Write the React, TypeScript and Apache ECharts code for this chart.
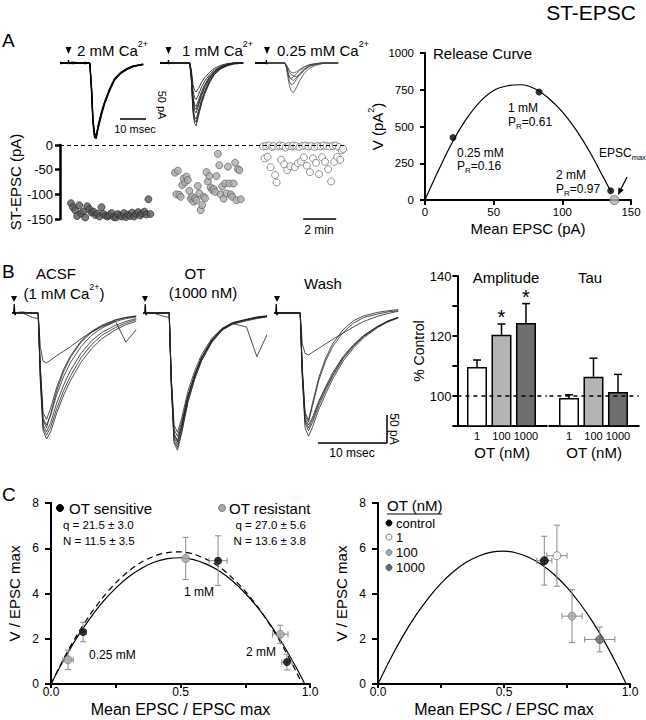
import React, { useEffect, useRef } from 'react';
import * as echarts from 'echarts';

const FONT = '"Liberation Sans", Arial, Helvetica, sans-serif';

// ---------- Panel A: example ST-EPSC traces (ms, pA) ----------
const traceTimeA = [0, 4, 8, 9.3, 9.8, 10.3, 10.8, 11.3, 12, 13, 14, 15.5, 17, 19, 21, 23, 26];
const sweeps2mM = [
  [0, 0, 0, 0, -40, -100, -126, -128, -108, -86, -68, -46, -28, -17, -10, -6, -3],
  [1, -1, 1, 0, -35, -95, -124, -131, -112, -89, -70, -48, -30, -18, -11, -6, -2],
  [-1, 1, 0, -1, -45, -106, -129, -126, -105, -83, -66, -44, -27, -16, -9, -5, -2],
  [0, 1, -1, 0, -38, -98, -121, -125, -107, -85, -67, -47, -29, -17, -10, -5, -3],
];
const sweeps1mM = [
  [0, 0, 0, 0, -30, -85, -104, -108, -92, -70, -53, -34, -20, -10, -5, -2, 0],
  [1, 0, -1, 0, -27, -75, -93, -97, -83, -63, -48, -30, -18, -9, -4, -1, 0],
  [0, -1, 0, 1, -23, -65, -82, -86, -74, -56, -42, -27, -16, -8, -3, -1, 0],
  [-1, 0, 1, 0, -20, -57, -72, -75, -65, -49, -37, -23, -14, -7, -3, 0, 1],
  [0, 1, 0, -1, -16, -47, -60, -63, -55, -41, -31, -20, -12, -6, -2, 0, 0],
  [0, 0, -1, 0, -12, -37, -47, -50, -44, -33, -25, -16, -9, -4, -1, 0, 0],
  [0, 1, 0, 0, -28, -80, -98, -102, -88, -67, -50, -32, -19, -9, -4, -1, 0],
  [1, 0, 0, -1, -21, -61, -77, -80, -70, -53, -40, -25, -15, -7, -3, 0, 0],
];
const sweeps025mM = [
  [0, 0, 0, 0, -8, -25, -40, -48, -51, -42, -30, -17, -9, -4, -1, 0, 0],
  [1, 0, -1, 0, -6, -20, -32, -37, -36, -28, -20, -11, -5, -2, 0, 0, 0],
  [0, -1, 0, 1, -5, -15, -24, -28, -30, -25, -18, -10, -5, -2, -1, 0, 0],
  [0, 0, 1, -1, -4, -10, -16, -20, -22, -24, -20, -12, -6, -2, 0, 0, 0],
  [-1, 0, 0, 0, -3, -8, -13, -16, -17, -15, -11, -6, -3, -1, 0, 0, 0],
  [0, 1, 0, 0, -6, -18, -25, -27, -24, -18, -13, -7, -3, -1, 0, 0, 0],
];

// ---------- Panel A: ST-EPSC amplitude over time (pA) ----------
const epsc2mM = [-118, -126, -132, -144, -122, -139, -135, -147, -124, -130, -137, -135, -142, -139, -145, -126, -140, -143, -145, -142,
  -138, -146, -147, -140, -143, -145, -138, -146, -141, -144, -137, -145, -140, -136, -143, -139, -135, -141, -110, -140];
const epsc1mM = [-56, -100, -52, -101, -105, -81, -68, -76, -64, -71, -93, -109, -105, -115, -108, -112, -83, -98, -132, -122, -105, -108,
  -55, -74, -63, -86, -91, -89, -95, -63, -18, -41, -100, -84, -109, -78, -98, -44, -78, -100, -105, -78, -36, -112, -49, -51, -110];
const epsc025mM = [-3, -27, -2, -24, -1, -45, -4, -2, -61, -76, -3, -1, -30, -2, -39, -5, -51, -2, -43, -3, -1, -45, -2, -37, -4, -34, -2,
  -25, -1, -42, -3, -55, -2, -27, -4, -36, -2, -59, -3, -25, -1, -34, -2, -49, -3, -74, -2, -34, -1, -24, -4, -30, -11, -8];
const epscStartSec = [40, 418, 738];
const epscStepSec = [7.4, 5.2, 5.5];

// ---------- Panel A: release curve ----------
const releaseFitI = [0, 10, 20, 30, 40, 50, 60, 70, 80, 90, 100, 110, 120, 130, 135.5];
const releaseFitV = [0, 205, 395, 550, 668, 745, 777, 784, 757, 692, 600, 477, 327, 152, 55];
const releasePtI = [20.4, 83, 135.2];
const releasePtV = [425, 735, 63];
const epscMaxPt = [137.9, 0];

// ---------- Panel B: traces ----------
const traceTimeB = [0, 1.5, 3, 3.8, 4.1, 4.5, 5, 5.6, 6.5, 7.5, 8.5, 10, 11.5, 13, 15, 16.5, 18];
const sweepsACSF = [
  [0, 2, -1, 0, -120, -210, -225, -212, -178, -146, -120, -88, -64, -46, -30, -21, -15],
  [1, -1, 0, 0, -110, -200, -212, -196, -160, -128, -102, -72, -50, -35, -22, -15, -10],
  [0, 0, 1, -1, -100, -188, -200, -183, -145, -113, -88, -60, -40, -27, -15, -52, -30],
  [-1, 1, 0, 0, -95, -178, -190, -170, -132, -100, -76, -50, -33, -22, -12, -8, -5],
  [0, 0, -8, -10, -100, -192, -205, -180, -138, -104, -79, -52, -35, -24, -13, -8, -6],
  [0, 1, 0, 0, -60, -86, -89, -84, -76, -68, -60, -46, -34, -24, -15, -10, -7],
  [1, 0, 0, 0, -115, -205, -218, -204, -170, -138, -112, -80, -57, -40, -26, -18, -12],
];
const sweepsOT = [
  [0, 1, 0, 0, -130, -232, -245, -215, -160, -118, -85, -52, -30, -20, -14, -10, -7],
  [1, 0, -1, 0, -125, -222, -235, -206, -152, -112, -80, -48, -28, -18, -12, -9, -6],
  [0, -1, 0, 1, -120, -215, -228, -200, -150, -110, -79, -47, -28, -18, -12, -8, -6],
  [0, 0, -6, -8, -118, -208, -220, -195, -148, -110, -80, -50, -30, -19, -12, -8, -5],
  [-1, 0, 1, 0, -115, -200, -213, -188, -140, -103, -74, -45, -27, -17, -11, -7, -5],
  [0, 1, 0, 0, -128, -228, -240, -212, -158, -116, -84, -51, -30, -19, -25, -78, -38],
  [0, 0, 0, 1, -122, -218, -230, -203, -150, -110, -80, -49, -29, -18, -12, -8, -6],
];
const sweepsWash = [
  [0, 1, 0, 0, -115, -205, -220, -203, -172, -144, -118, -86, -63, -44, -26, -16, -9],
  [1, 0, -1, 0, -110, -196, -210, -195, -165, -138, -113, -82, -60, -42, -25, -15, -8],
  [0, -1, 0, 1, -105, -188, -200, -186, -157, -131, -107, -78, -57, -40, -24, -14, -8],
  [0, 0, 1, -1, -100, -182, -195, -165, -120, -85, -60, -35, -18, -8, -2, 2, 4],
  [-1, 0, 0, 0, -98, -178, -191, -160, -115, -80, -55, -30, -14, -5, 1, 4, 6],
  [0, 1, 0, 0, -55, -72, -75, -70, -63, -55, -47, -36, -25, -15, -6, -1, 3],
  [1, 0, 0, 0, -108, -192, -205, -190, -160, -134, -110, -80, -58, -41, -24, -15, -8],
];

// ---------- Panel B: bar summary (% control) ----------
const otDoses = ['1', '100', '1000'];
const ampMean = [109.7, 120.4, 124.3];
const ampSem = [2.3, 3.6, 6.5];
const ampSig = [0, 1, 1];
const tauMean = [99.3, 106.4, 101.3];
const tauSem = [1.1, 6.2, 5.9];
const tauSig = [0, 0, 0];

// ---------- Panel C ----------
const fitXSens = [0, 0.05, 0.1, 0.15, 0.2, 0.25, 0.3, 0.35, 0.4, 0.45, 0.5, 0.55, 0.6, 0.65, 0.7, 0.75, 0.8, 0.85, 0.9, 0.95, 0.98];
const fitVSens = [0, 1.08, 2.05, 2.89, 3.63, 4.24, 4.74, 5.12, 5.39, 5.54, 5.58, 5.5, 5.3, 4.99, 4.56, 4.01, 3.35, 2.57, 1.67, 0.66, 0];
const fitXRes = [0, 0.05, 0.1, 0.15, 0.2, 0.25, 0.3, 0.35, 0.4, 0.45, 0.5, 0.55, 0.6, 0.65, 0.7, 0.75, 0.8, 0.85, 0.9, 0.95, 0.97];
const fitVRes = [0, 1.14, 2.16, 3.05, 3.82, 4.47, 4.99, 5.39, 5.66, 5.81, 5.84, 5.74, 5.51, 5.17, 4.69, 4.1, 3.38, 2.53, 1.56, 0.47, 0];
const sensX = [0.124, 0.645, 0.911];
const sensY = [2.3, 5.45, 0.97];
const sensXErr = [0.012, 0.035, 0.02];
const sensYErr = [0.43, 1.1, 0.35];
const resX = [0.066, 0.52, 0.885];
const resY = [1.07, 5.55, 2.2];
const resXErr = [0.02, 0, 0.03];
const resYErr = [0.43, 0.93, 0.4];

const fitXOT = [0, 0.05, 0.1, 0.15, 0.2, 0.25, 0.3, 0.35, 0.4, 0.45, 0.5, 0.55, 0.6, 0.65, 0.7, 0.75, 0.8, 0.85, 0.9, 0.95, 0.985];
const fitVOT = [0, 1.13, 2.14, 3.03, 3.8, 4.45, 4.97, 5.38, 5.66, 5.83, 5.87, 5.79, 5.59, 5.27, 4.83, 4.27, 3.58, 2.78, 1.85, 0.81, 0];
const otGroups = ['control', '1', '100', '1000'];
const otX = [0.66, 0.71, 0.77, 0.88];
const otY = [5.45, 5.67, 3.0, 1.97];
const otXErr = [0.03, 0.04, 0.04, 0.06];
const otYErr = [1.08, 1.35, 1.17, 0.55];

// ---------- styles ----------
const otFill = ['#000000', '#ffffff', '#a8a8a8', '#666666'];
const otStroke = ['#000000', '#777777', '#888888', '#555555'];
const barFill = ['#ffffff', '#b4b4b4', '#6e6e6e'];

function txt(x: number, y: number, text: string, size = 13, align = 'left', extra: any = {}) {
  return {
    type: 'text', x, y, silent: true,
    style: { text, fontSize: size, fontFamily: FONT, fill: '#000', align, verticalAlign: 'middle', ...extra },
  };
}
function richSup(main: number, sup: number) {
  return {
    a: { fontSize: main, fontFamily: FONT, fill: '#000', lineHeight: main + 6 },
    s: { fontSize: sup, fontFamily: FONT, fill: '#000', verticalAlign: 'top', lineHeight: sup + 1 },
  };
}
function richSub(main: number, sub: number) {
  return {
    a: { fontSize: main, fontFamily: FONT, fill: '#000', lineHeight: main + 4 },
    s: { fontSize: sub, fontFamily: FONT, fill: '#000', verticalAlign: 'bottom', lineHeight: sub + 1 },
  };
}
function tri(cx: number, top: number, bottom: number) {
  return { type: 'polygon', silent: true, shape: { points: [[cx - 3, top], [cx + 3, top], [cx, bottom]] }, style: { fill: '#000' } };
}
function seg(x1: number, y1: number, x2: number, y2: number, w = 1.2, color = '#000') {
  return { type: 'line', silent: true, shape: { x1, y1, x2, y2 }, style: { stroke: color, lineWidth: w } };
}
function dot(cx: number, cy: number, r: number, fill: string, stroke: string) {
  return { type: 'circle', silent: true, shape: { cx, cy, r }, style: { fill, stroke, lineWidth: 1 } };
}

function visAxis(o: any) {
  return {
    gridIndex: o.grid, type: 'value', min: o.min, max: o.max, interval: o.interval,
    name: o.name || '', nameLocation: 'middle', nameGap: o.nameGap || 20,
    nameTextStyle: { color: '#000', fontSize: o.nameSize || 15, fontFamily: FONT, rich: o.rich },
    axisLine: { show: o.line !== false, onZero: false, lineStyle: { color: '#000', width: o.lineWidth || 2 } },
    axisTick: { show: o.tick !== false, length: o.tickLen || 5, inside: false, lineStyle: { color: '#000', width: o.lineWidth || 2 } },
    axisLabel: {
      show: o.label !== false, color: '#000', fontSize: o.labelSize || 12, fontFamily: FONT, margin: o.margin ?? 8,
      formatter: o.formatter || ((v: number) => String(v)), customValues: o.labelValues,
    },
    splitLine: { show: false },
  };
}
function hidAxis(grid: number, min: number, max: number) {
  return { gridIndex: grid, type: 'value', min, max, show: false };
}

function traceSeries(gi: number, times: number[], sweeps: number[][], color: string, width: number) {
  return sweeps.map((sw) => ({
    type: 'line', xAxisIndex: gi, yAxisIndex: gi, data: times.map((t, k) => [t, sw[k]]),
    symbol: 'none', silent: true, clip: false, lineStyle: { color, width }, z: 3,
  }));
}
function polySeries(gi: number, pts: number[][], width = 1.5, color = '#000') {
  return { type: 'line', xAxisIndex: gi, yAxisIndex: gi, data: pts, symbol: 'none', silent: true, clip: false, lineStyle: { color, width }, z: 4 };
}

function barErrRender(params: any, api: any) {
  const x = api.value(0), m = api.value(1), e = api.value(2), sig = api.value(3);
  const p0 = api.coord([x, m]);
  const p1 = api.coord([x, m + e]);
  const st = { stroke: '#000', lineWidth: 1.5 };
  const children: any[] = [
    { type: 'line', shape: { x1: p0[0], y1: p0[1], x2: p1[0], y2: p1[1] }, style: st },
    { type: 'line', shape: { x1: p1[0] - 4, y1: p1[1], x2: p1[0] + 4, y2: p1[1] }, style: st },
  ];
  if (sig) {
    children.push({ type: 'text', x: p1[0], y: p1[1] - 7, style: { text: '*', fontSize: 20, fontFamily: FONT, fill: '#000', align: 'center', verticalAlign: 'middle' } });
  }
  return { type: 'group', children };
}
function xyErrRender(params: any, api: any) {
  const x = api.value(0), y = api.value(1), ex = api.value(2), ey = api.value(3);
  const c = api.coord([x, y]);
  const st = { stroke: '#8a8a8a', lineWidth: 1 };
  const cap = 3;
  const L = (x1: number, y1: number, x2: number, y2: number) => ({ type: 'line', shape: { x1, y1, x2, y2 }, style: st });
  const ch: any[] = [];
  if (ey > 0) {
    const lo = api.coord([x, y - ey]);
    const hi = api.coord([x, y + ey]);
    ch.push(L(c[0], lo[1], c[0], hi[1]), L(c[0] - cap, lo[1], c[0] + cap, lo[1]), L(c[0] - cap, hi[1], c[0] + cap, hi[1]));
  }
  if (ex > 0) {
    const lo = api.coord([x - ex, y]);
    const hi = api.coord([x + ex, y]);
    ch.push(L(lo[0], c[1], hi[0], c[1]), L(lo[0], c[1] - cap, lo[0], c[1] + cap), L(hi[0], c[1] - cap, hi[0], c[1] + cap));
  }
  return { type: 'group', children: ch };
}

function buildOption() {
  const aPxMs = 3.2, aPxPa = 0.58;
  const aTop = 63 - 14 * aPxPa, aH = 154 * aPxPa;
  const bPxMs = 6.9, bPxPa = 0.56;
  const bTop = 313 - 30 * bPxPa, bH = 280 * bPxPa;

  const grid = [
    { left: 60, top: aTop, width: 84, height: aH },
    { left: 160, top: aTop, width: 84, height: aH },
    { left: 255, top: aTop, width: 87, height: aH },
    { left: 60, top: 145, width: 285, height: 74 },
    { left: 425, top: 53, width: 206, height: 147 },
    { left: 12, top: bTop, width: 125, height: bH },
    { left: 143, top: bTop, width: 123, height: bH },
    { left: 274, top: bTop, width: 124, height: bH },
    { left: 457.4, top: 276, width: 89.4, height: 150 },
    { left: 549.4, top: 276, width: 89.4, height: 150 },
    { left: 51, top: 503, width: 259, height: 181 },
    { left: 378, top: 503, width: 252, height: 181 },
  ];

  const halfFmt = (v: number) => (Math.abs(v * 2 - Math.round(v * 2)) < 1e-6 ? v.toFixed(1) : '');
  const doseFmt = (v: number) => otDoses[Math.round(v) - 1] || '';
  const xAxis: any[] = [
    hidAxis(0, 0, 84 / aPxMs), hidAxis(1, 0, 84 / aPxMs), hidAxis(2, 0, 87 / aPxMs),
    hidAxis(3, 0, 1036),
    visAxis({ grid: 4, min: 0, max: 150, interval: 50, name: 'Mean EPSC (pA)', nameGap: 21, labelSize: 11.5, margin: 6 }),
    hidAxis(5, 0, 125 / bPxMs), hidAxis(6, 0, 123 / bPxMs), hidAxis(7, 0, 124 / bPxMs),
    visAxis({ grid: 8, min: 0.2, max: 3.85, name: 'OT (nM)', nameGap: 19, tick: false, labelSize: 11, margin: 4, labelValues: [1, 2, 3], formatter: doseFmt }),
    visAxis({ grid: 9, min: 0.2, max: 3.85, name: 'OT (nM)', nameGap: 19, tick: false, labelSize: 11, margin: 4, labelValues: [1, 2, 3], formatter: doseFmt }),
    visAxis({ grid: 10, min: 0, max: 1, interval: 0.25, name: 'Mean EPSC / EPSC max', nameGap: 17, nameSize: 16, labelSize: 12, margin: 2, tickLen: 4, formatter: halfFmt }),
    visAxis({ grid: 11, min: 0, max: 1, interval: 0.25, name: 'Mean EPSC / EPSC max', nameGap: 17, nameSize: 16, labelSize: 12, margin: 2, tickLen: 4, formatter: halfFmt }),
  ];
  const yAxis: any[] = [
    hidAxis(0, -140, 14), hidAxis(1, -140, 14), hidAxis(2, -140, 14),
    visAxis({ grid: 3, min: -150, max: 0, interval: 50, name: 'ST-EPSC (pA)', nameGap: 37, labelSize: 13, margin: 7, lineWidth: 2.5 }),
    visAxis({ grid: 4, min: 0, max: 1000, interval: 250, name: '{a|V (pA}{s|2}{a|)}', nameGap: 37, labelSize: 11.5, margin: 11, rich: richSup(15, 9) }),
    hidAxis(5, -250, 30), hidAxis(6, -250, 30), hidAxis(7, -250, 30),
    visAxis({ grid: 8, min: 90, max: 140, interval: 10, name: '% Control', nameGap: 30, nameSize: 14, labelSize: 13, margin: 6,
      formatter: (v: number) => (v === 100 || v === 120 || v === 140 ? String(v) : '') }),
    { gridIndex: 9, type: 'value', min: 90, max: 140, show: false },
    visAxis({ grid: 10, min: 0, max: 8, interval: 2, name: 'V / EPSC max', nameGap: 29, labelSize: 12, margin: 12, tickLen: 6 }),
    visAxis({ grid: 11, min: 0, max: 8, interval: 2, name: 'V / EPSC max', nameGap: 29, labelSize: 12, margin: 12, tickLen: 6 }),
  ];

  const series: any[] = [];
  series.push(...traceSeries(0, traceTimeA, sweeps2mM, '#000', 1.2));
  series.push(...traceSeries(1, traceTimeA, sweeps1mM, '#222', 0.9));
  series.push(...traceSeries(2, traceTimeA, sweeps025mM, '#444', 0.8));
  [0, 1, 2].forEach((gi) => series.push(polySeries(gi, [[0, 0], [(gi === 2 ? 3.5 : 2.6), 0], [(gi === 2 ? 3.55 : 2.65), 5], [(gi === 2 ? 3.6 : 2.7), -2], [(gi === 2 ? 3.7 : 2.8), 0]], 1.4)));
  const sbY = -(119 - 63) / aPxPa;
  series.push(polySeries(0, [[(120 - 60) / aPxMs, sbY], [(120 - 60) / aPxMs + 10, sbY], [(120 - 60) / aPxMs + 10, sbY + 50]], 1.5));

  const groups = [epsc2mM, epsc1mM, epsc025mM];
  const gStyles = [
    { color: '#5a5a5a', borderColor: '#222', borderWidth: 0.8 },
    { color: '#ababab', borderColor: '#555', borderWidth: 0.8 },
    { color: '#ffffff', borderColor: '#777', borderWidth: 1 },
  ];
  groups.forEach((g, gi) => {
    series.push({
      type: 'scatter', xAxisIndex: 3, yAxisIndex: 3, clip: false, symbolSize: 7, silent: true,
      data: g.map((v, i) => [epscStartSec[gi] + i * epscStepSec[gi], v]),
      itemStyle: gStyles[gi], z: 4,
      markLine: gi === 0 ? {
        silent: true, symbol: ['none', 'none'], label: { show: false },
        lineStyle: { type: [4, 3], color: '#000', width: 1 }, data: [{ yAxis: 0 }],
      } : undefined,
    });
  });
  series.push(polySeries(3, [[884, -150], [1004, -150]], 1.5));

  series.push({
    type: 'line', xAxisIndex: 4, yAxisIndex: 4, data: releaseFitI.map((v, i) => [v, releaseFitV[i]]),
    symbol: 'none', smooth: 0.4, silent: true, lineStyle: { color: '#000', width: 1.2 }, z: 3,
  });
  series.push({
    type: 'scatter', xAxisIndex: 4, yAxisIndex: 4, symbolSize: 7, silent: true, clip: false,
    data: releasePtI.map((v, i) => [v, releasePtV[i]]), itemStyle: { color: '#000' }, z: 5,
  });
  series.push({
    type: 'scatter', xAxisIndex: 4, yAxisIndex: 4, symbolSize: 9, silent: true, clip: false,
    data: [epscMaxPt], itemStyle: { color: '#b0b0b0', borderColor: '#666', borderWidth: 1 }, z: 5,
  });

  series.push(...traceSeries(5, traceTimeB, sweepsACSF, '#222', 0.8));
  series.push(...traceSeries(6, traceTimeB, sweepsOT, '#222', 0.8));
  series.push(...traceSeries(7, traceTimeB, sweepsWash, '#222', 0.8));
  [5, 6, 7].forEach((gi) => series.push(polySeries(gi, [[0.25, 0], [0.32, 16], [0.42, -4], [0.55, 0]], 1.2)));
  const bsY = -(443 - 313) / bPxPa;
  series.push(polySeries(7, [[(318 - 274) / bPxMs, bsY], [(318 - 274) / bPxMs + 10, bsY], [(318 - 274) / bPxMs + 10, bsY + 50]], 1.5));

  const dashed = {
    silent: true, symbol: ['none', 'none'], label: { show: false },
    lineStyle: { type: [4, 4], color: '#000', width: 1.5 }, data: [{ yAxis: 100 }],
  };
  [[8, ampMean, ampSem, ampSig], [9, tauMean, tauSem, tauSig]].forEach(([gi, mean, sem, sig]: any) => {
    series.push({
      type: 'bar', xAxisIndex: gi, yAxisIndex: gi, barWidth: 20, silent: true, z: 2,
      data: mean.map((v: number, i: number) => ({ value: [i + 1, v], itemStyle: { color: barFill[i] } })),
      itemStyle: { borderColor: '#000', borderWidth: 1.5 },
      markLine: dashed,
    });
    series.push({
      type: 'custom', xAxisIndex: gi, yAxisIndex: gi, renderItem: barErrRender, silent: true, z: 3,
      encode: { x: 0, y: 1 },
      data: mean.map((v: number, i: number) => [i + 1, v, sem[i], sig[i]]),
    });
  });

  series.push({
    type: 'line', xAxisIndex: 10, yAxisIndex: 10, data: fitXRes.map((x, i) => [x, fitVRes[i]]),
    symbol: 'none', smooth: 0.3, silent: true, lineStyle: { color: '#000', width: 1.2, type: [6, 4] }, z: 2,
  });
  series.push({
    type: 'line', xAxisIndex: 10, yAxisIndex: 10, data: fitXSens.map((x, i) => [x, fitVSens[i]]),
    symbol: 'none', smooth: 0.3, silent: true, lineStyle: { color: '#000', width: 1.2 }, z: 2,
  });
  series.push({
    type: 'custom', xAxisIndex: 10, yAxisIndex: 10, renderItem: xyErrRender, silent: true, z: 3, encode: { x: 0, y: 1 },
    data: [...sensX.map((x, i) => [x, sensY[i], sensXErr[i], sensYErr[i]]), ...resX.map((x, i) => [x, resY[i], resXErr[i], resYErr[i]])],
  });
  series.push({
    type: 'scatter', xAxisIndex: 10, yAxisIndex: 10, symbolSize: 8, silent: true, clip: false, z: 4,
    data: resX.map((x, i) => [x, resY[i]]), itemStyle: { color: '#a8a8a8', borderColor: '#7a7a7a', borderWidth: 1 },
  });
  series.push({
    type: 'scatter', xAxisIndex: 10, yAxisIndex: 10, symbolSize: 8, silent: true, clip: false, z: 4,
    data: sensX.map((x, i) => [x, sensY[i]]), itemStyle: { color: '#000' },
  });

  series.push({
    type: 'line', xAxisIndex: 11, yAxisIndex: 11, data: fitXOT.map((x, i) => [x, fitVOT[i]]),
    symbol: 'none', smooth: 0.3, silent: true, lineStyle: { color: '#000', width: 1.2 }, z: 2,
  });
  series.push({
    type: 'custom', xAxisIndex: 11, yAxisIndex: 11, renderItem: xyErrRender, silent: true, z: 3, encode: { x: 0, y: 1 },
    data: otX.map((x, i) => [x, otY[i], otXErr[i], otYErr[i]]),
  });
  series.push({
    type: 'scatter', xAxisIndex: 11, yAxisIndex: 11, symbolSize: 8, silent: true, clip: false, z: 4,
    data: otX.map((x, i) => ({ name: otGroups[i], value: [x, otY[i]], itemStyle: { color: otFill[i], borderColor: otStroke[i], borderWidth: 1 } })),
  });

  const sup15 = richSup(15, 9);
  const sub12 = richSub(12, 8);
  const graphic: any[] = [
    txt(2, 40, 'A', 19), txt(2, 271, 'B', 19), txt(2, 494, 'C', 19),
    txt(636, 12, 'ST-EPSC', 21, 'right'),
    tri(68.5, 47, 54), txt(77, 50, '{a|2 mM Ca}{s|2+}', 15, 'left', { rich: sup15 }),
    tri(168.5, 47, 54), txt(182, 50, '{a|1 mM Ca}{s|2+}', 15, 'left', { rich: sup15 }),
    tri(267, 47, 54), txt(277, 50, '{a|0.25 mM Ca}{s|2+}', 15, 'left', { rich: sup15 }),
    { ...txt(162, 105, '50 pA', 11, 'center'), rotation: -Math.PI / 2 },
    txt(135, 129, '10 msec', 11, 'center'),
    txt(319, 230, '2 min', 12, 'center'),
    txt(433, 53, 'Release Curve', 15),
    txt(508, 108, '1 mM', 12), txt(508, 122, '{a|P}{s|R}{a|=0.61}', 12, 'left', { rich: sub12 }),
    txt(457, 153, '0.25 mM', 12), txt(457, 166, '{a|P}{s|R}{a|=0.16}', 12, 'left', { rich: sub12 }),
    txt(556, 175, '2 mM', 12), txt(556, 189, '{a|P}{s|R}{a|=0.97}', 12, 'left', { rich: sub12 }),
    txt(599, 153, '{a|EPSC}{s|max}', 12, 'left', { rich: richSub(12, 7.5) }),
    seg(627, 177, 621, 189, 1.2),
    { type: 'polygon', silent: true, shape: { points: [[618, 195], [623.8, 190], [618.4, 187.4]] }, style: { fill: '#000' } },
    tri(14, 296, 302), tri(145, 296, 302), tri(277, 296, 302),
    txt(56, 273, 'ACSF', 15, 'center'),
    txt(64, 293, '{a|(1 mM Ca}{s|2+}{a|)}', 15, 'center', { rich: sup15 }),
    txt(195, 273, 'OT', 15, 'center'), txt(203, 292, '(1000 nM)', 15, 'center'),
    txt(323, 283, 'Wash', 15, 'center'),
    { ...txt(394, 429, '50 pA', 12, 'center'), rotation: -Math.PI / 2 },
    txt(352, 453, '10 msec', 12, 'center'),
    txt(506, 277, 'Amplitude', 15, 'center'), txt(590, 277, 'Tau', 15, 'center'),
    dot(60, 508, 3.5, '#000', '#000'), txt(69, 508, 'OT sensitive', 15),
    txt(63, 525, 'q = 21.5 ± 3.0', 11.5), txt(63, 541, 'N = 11.5 ± 3.5', 11.5),
    dot(222, 508, 3.5, '#a8a8a8', '#7a7a7a'), txt(229, 508, 'OT resistant', 15),
    txt(306, 525, 'q = 27.0 ± 5.6', 11.5, 'right'), txt(306, 541, 'N = 13.6 ± 3.8', 11.5, 'right'),
    txt(184, 592, '1 mM', 12), txt(89, 655, '0.25 mM', 12), txt(246, 652, '2 mM', 12),
    txt(387, 505, 'OT (nM)', 15), seg(387, 514, 442, 514, 1),
    ...otGroups.map((g, i) => dot(389, 523 + [0, 14, 29.5, 44.5][i], 3, otFill[i], otStroke[i])),
    ...otGroups.map((g, i) => txt(396, 523 + [0, 14, 29.5, 44.5][i], g, 13)),
  ];

  return {
    animation: false,
    backgroundColor: '#ffffff',
    textStyle: { fontFamily: FONT },
    grid, xAxis, yAxis, series, graphic,
  };
}

export default function App() {
  const ref = useRef<HTMLDivElement>(null);
  useEffect(() => {
    const chart = echarts.init(ref.current as HTMLDivElement, undefined, { renderer: 'svg' });
    chart.setOption(buildOption() as any);
    return () => chart.dispose();
  }, []);
  return <div ref={ref} style={{ position: 'fixed', left: 0, top: 0, width: 646, height: 720, background: '#fff' }} />;
}
